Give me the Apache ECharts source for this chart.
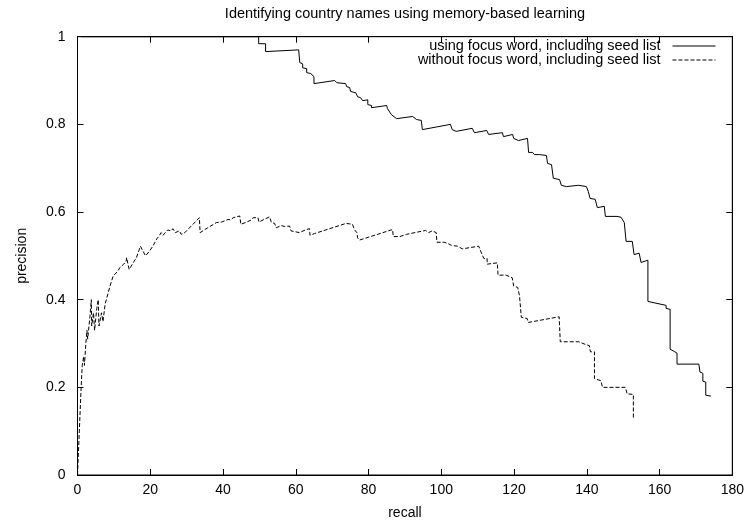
<!DOCTYPE html>
<html>
<head>
<meta charset="utf-8">
<script src="https://cdn.jsdelivr.net/npm/echarts@6/dist/echarts.min.js"></script>
<style>html,body{margin:0;padding:0;background:#fff;}#chart{width:747px;height:525px;}</style>
</head>
<body>
<div id="chart"></div>
<script>
// ---- data ----
var titleText = 'Identifying country names using memory-based learning';
var xName = 'recall';
var yName = 'precision';
var seriesNames = ['using focus word, including seed list', 'without focus word, including seed list'];
var xTicks = { min: 0, max: 180, step: 20 };
var yTicks = { min: 0, max: 1, step: 0.2 };

var focusRecall = [1.0, 49.8, 49.8, 51.7, 51.7, 60.8, 61.1, 61.9, 61.9, 63.0, 63.0, 64.1, 65.0, 65.0, 70.7, 71.3, 73.7, 74.0, 74.8, 75.1, 76.5, 77.0, 77.8, 78.4, 79.8, 79.8, 80.8, 80.8, 85.0, 85.2, 86.3, 87.7, 88.0, 92.1, 93.2, 94.5, 94.8, 102.5, 103.0, 104.1, 108.5, 109.1, 112.5, 113.0, 116.8, 117.1, 119.6, 119.9, 121.2, 123.7, 124.0, 125.1, 125.6, 127.0, 127.2, 128.9, 129.2, 130.3, 130.8, 130.8, 132.5, 133.0, 134.4, 137.7, 139.9, 140.4, 140.9, 142.3, 142.9, 144.8, 145.1, 148.3, 149.4, 150.3, 150.8, 150.8, 152.5, 153.0, 154.4, 154.9, 156.8, 156.8, 157.9, 161.8, 161.8, 162.9, 162.9, 164.0, 164.8, 164.8, 170.8, 171.1, 171.9, 171.9, 172.7, 172.7, 174.1];
var focusPrecision = [1.0, 1.0, 0.984, 0.984, 0.966, 0.970, 0.941, 0.938, 0.929, 0.927, 0.918, 0.916, 0.909, 0.893, 0.900, 0.895, 0.893, 0.886, 0.884, 0.875, 0.872, 0.863, 0.861, 0.854, 0.856, 0.845, 0.843, 0.838, 0.843, 0.836, 0.822, 0.813, 0.809, 0.818, 0.811, 0.809, 0.788, 0.800, 0.788, 0.784, 0.791, 0.781, 0.786, 0.777, 0.781, 0.772, 0.777, 0.768, 0.763, 0.768, 0.736, 0.736, 0.731, 0.731, 0.727, 0.729, 0.711, 0.708, 0.704, 0.677, 0.674, 0.661, 0.658, 0.661, 0.658, 0.647, 0.631, 0.629, 0.610, 0.613, 0.590, 0.590, 0.588, 0.576, 0.574, 0.533, 0.533, 0.503, 0.506, 0.485, 0.490, 0.396, 0.394, 0.387, 0.380, 0.378, 0.287, 0.282, 0.278, 0.253, 0.253, 0.235, 0.232, 0.214, 0.212, 0.182, 0.180];

var noFocusRecall = [0, 0.5, 1.0, 1.3, 1.7, 1.9, 2.3, 2.6, 2.8, 3.4, 3.8, 3.9, 4.4, 4.7, 5.3, 5.7, 5.9, 6.6, 7.0, 7.6, 8.9, 9.8, 11.1, 11.6, 12.7, 13.4, 13.5, 14.2, 15.3, 16.2, 17.3, 17.8, 18.7, 19.8, 20.7, 21.5, 21.8, 22.4, 23.0, 23.5, 24.8, 25.8, 26.2, 26.9, 28.0, 28.5, 29.5, 33.5, 33.7, 35.8, 38.2, 39.6, 41.4, 42.1, 42.8, 44.6, 44.9, 46.5, 47.8, 48.3, 49.6, 49.9, 51.0, 52.8, 53.3, 54.2, 54.6, 56.0, 57.0, 58.3, 58.7, 61.0, 62.9, 63.8, 63.9, 65.2, 73.8, 75.6, 76.1, 76.8, 77.0, 77.5, 86.6, 86.8, 88.6, 90.4, 95.7, 96.5, 97.5, 98.6, 98.8, 100.8, 101.9, 102.8, 104.4, 105.8, 110.3, 110.8, 111.2, 111.7, 112.6, 112.6, 115.4, 115.6, 117.8, 119.5, 119.9, 121.0, 121.5, 122.0, 122.0, 123.6, 123.9, 132.4, 132.7, 137.7, 139.6, 140.7, 141.0, 142.1, 142.1, 143.9, 144.3, 150.6, 151.1, 152.8, 152.8];
var noFocusPrecision = [0, 0.10, 0.20, 0.25, 0.27, 0.25, 0.30, 0.33, 0.31, 0.36, 0.40, 0.34, 0.37, 0.33, 0.38, 0.40, 0.34, 0.37, 0.35, 0.39, 0.43, 0.454, 0.465, 0.473, 0.481, 0.488, 0.496, 0.469, 0.484, 0.496, 0.522, 0.526, 0.500, 0.511, 0.522, 0.534, 0.539, 0.545, 0.553, 0.547, 0.559, 0.557, 0.562, 0.553, 0.557, 0.549, 0.553, 0.587, 0.553, 0.564, 0.576, 0.577, 0.583, 0.582, 0.587, 0.591, 0.572, 0.577, 0.582, 0.587, 0.587, 0.577, 0.582, 0.589, 0.576, 0.574, 0.564, 0.569, 0.567, 0.568, 0.557, 0.553, 0.560, 0.562, 0.547, 0.551, 0.574, 0.572, 0.560, 0.553, 0.541, 0.536, 0.560, 0.544, 0.544, 0.549, 0.558, 0.553, 0.557, 0.553, 0.531, 0.531, 0.528, 0.524, 0.522, 0.516, 0.522, 0.511, 0.508, 0.494, 0.494, 0.481, 0.484, 0.456, 0.456, 0.450, 0.431, 0.428, 0.409, 0.405, 0.360, 0.357, 0.348, 0.361, 0.304, 0.304, 0.298, 0.295, 0.281, 0.281, 0.220, 0.215, 0.200, 0.200, 0.185, 0.184, 0.131];

function pairs(xs, ys) { return xs.map(function (x, i) { return [x, ys[i]]; }); }

var FONT = '"Liberation Sans", Arial, Helvetica, sans-serif';
var chart = echarts.init(document.getElementById('chart'), null, { renderer: 'canvas' });

function axisBase(extra) {
  var a = {
    type: 'value',
    axisLine: { show: true, onZero: false, lineStyle: { color: '#000', width: 1 } },
    axisTick: { show: true, inside: true, length: 6, lineStyle: { color: '#000', width: 1 } },
    splitLine: { show: false },
    axisLabel: { color: '#000', fontSize: 14, fontFamily: FONT }
  };
  for (var k in extra) a[k] = extra[k];
  return a;
}

function legendRow(name, top) {
  return {
    orient: 'horizontal', right: 31, top: top, align: 'right', padding: 0,
    itemWidth: 43, itemHeight: 10, itemGap: 0,
    itemStyle: { opacity: 0 },
    lineStyle: { width: 1 },
    textStyle: { color: '#000', fontSize: 14.5, fontFamily: FONT, padding: [0, 7, 0, 0] },
    data: [name]
  };
}

chart.setOption({
  animation: false,
  backgroundColor: '#fff',
  graphic: [{
    type: 'text', x: 405, y: 14.3,
    style: { text: titleText, fill: '#000', font: '14.5px ' + FONT, textAlign: 'center', textVerticalAlign: 'middle' }
  }],
  grid: { left: 77.5, right: 14, top: 36.7, bottom: 48.3, show: true, borderColor: '#000', borderWidth: 1, backgroundColor: 'transparent' },
  legend: [legendRow(seriesNames[0], 38.5), legendRow(seriesNames[1], 52.5)],
  xAxis: [
    axisBase({ min: xTicks.min, max: xTicks.max, interval: xTicks.step, position: 'bottom',
      name: xName, nameLocation: 'middle', nameGap: 31,
      nameTextStyle: { color: '#000', fontSize: 14, fontFamily: FONT },
      axisLabel: { color: '#000', fontSize: 14, fontFamily: FONT, margin: 8 } }),
    axisBase({ min: xTicks.min, max: xTicks.max, interval: xTicks.step, position: 'top',
      axisLabel: { show: false } })
  ],
  yAxis: [
    axisBase({ min: yTicks.min, max: yTicks.max, interval: yTicks.step, position: 'left',
      name: yName, nameLocation: 'middle', nameGap: 48, nameRotate: 90,
      nameTextStyle: { color: '#000', fontSize: 14, fontFamily: FONT },
      axisLabel: { color: '#000', fontSize: 14, fontFamily: FONT, margin: 12 } }),
    axisBase({ min: yTicks.min, max: yTicks.max, interval: yTicks.step, position: 'right',
      axisLabel: { show: false } })
  ],
  series: [
    { name: seriesNames[0], type: 'line', xAxisIndex: 0, yAxisIndex: 0, symbol: 'none',
      data: pairs(focusRecall, focusPrecision),
      lineStyle: { color: '#000', width: 1, type: 'solid' }, itemStyle: { color: '#000' } },
    { name: seriesNames[1], type: 'line', xAxisIndex: 0, yAxisIndex: 0, symbol: 'none',
      data: pairs(noFocusRecall, noFocusPrecision),
      lineStyle: { color: '#000', width: 1, type: [4, 2] }, itemStyle: { color: '#000' } }
  ]
});
</script>
</body>
</html>
